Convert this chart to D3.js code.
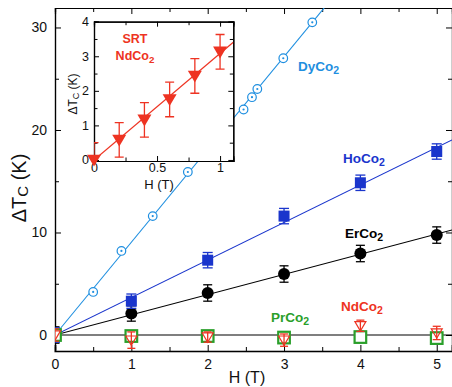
<!DOCTYPE html>
<html><head><meta charset="utf-8">
<script src="https://cdn.jsdelivr.net/npm/d3@7/dist/d3.min.js"></script>
<style>body{margin:0;background:#fff}svg{display:block;font-family:"Liberation Sans",Arial,Helvetica,sans-serif}</style>
</head><body>
<svg id="c" width="452" height="387"></svg>
<script>
// ---- data ----
const fieldH = [0, 1, 2, 3, 4, 5];
const dyH = [0, 0.5, 0.87, 1.28, 1.74, 2.47, 2.58, 2.65, 2.99, 3.37];
const dyT = [0, 4.2, 8.2, 11.6, 15.9, 22.0, 23.2, 24.0, 27.0, 30.5];
const hoT = [0, 3.3, 7.3, 11.6, 14.85, 17.9];
const hoErr = [0.7, 0.7, 0.75, 0.75, 0.75, 0.75];
const erT = [0, 2.1, 4.1, 5.95, 7.95, 9.75];
const erErr = [0.8, 0.75, 0.8, 0.8, 0.8, 0.8];
const prT = [0, -0.1, -0.1, -0.25, -0.2, -0.3];
const prErr = [0.4, 0.4, 0.4, 0.4, 0.4, 0.4];
const ndT = [0, -0.5, -0.2, -0.5, 0.9, 0.2];
const ndErr = [0.6, 0.8, 0.5, 0.6, 0.55, 0.65];
const fitSlopes = {dy: 9.05, ho: 3.66, er: 1.97};
const insetH = [0, 0.2, 0.4, 0.6, 0.8, 1.0];
const insetT = [0, 0.58, 1.16, 1.75, 2.43, 3.13];
const insetErr = [0.5, 0.5, 0.5, 0.5, 0.5, 0.5];
const insetSlope = 3.08;
const xTicks = [0, 1, 2, 3, 4, 5];
const yTicks = [0, 10, 20, 30];
const insetXTicks = [0, 0.5, 1];
const insetYTicks = [0, 1, 2, 3, 4];

const C = {dy: "#1f8fe0", ho: "#1a35cc", er: "#000", pr: "#2a9f2a", nd: "#ee3322"};

const svg = d3.select("#c");
const L = 55, R = 452, T = 8, B = 351;
const x = d3.scaleLinear().domain([0, 5.2]).range([L, R]);
const y = d3.scaleLinear().domain([-1.56, 31.9]).range([B, T]);

const defs = svg.append("defs");
defs.append("clipPath").attr("id", "clip")
  .append("rect").attr("x", L).attr("y", T).attr("width", R - L).attr("height", B - T);

// axes with inward ticks
function addAxes(g, xs, ys, xt, xMinor, yt, yMinor, fs, major, minor, xOff, yOff) {
  const [x0, x1] = xs.range(), [y0, y1] = ys.range();
  const bot = g.append("g").attr("transform", `translate(0,${y0})`)
    .call(d3.axisBottom(xs).tickValues(xt).tickSize(-major).tickPadding(xOff).tickFormat(d3.format("")));
  g.append("g").attr("transform", `translate(0,${y0})`)
    .call(d3.axisBottom(xs).tickValues(xMinor).tickSize(-minor).tickFormat(""));
  g.append("g").attr("transform", `translate(0,${y1})`)
    .call(d3.axisTop(xs).tickValues(xt).tickSize(-major).tickFormat(""));
  g.append("g").attr("transform", `translate(0,${y1})`)
    .call(d3.axisTop(xs).tickValues(xMinor).tickSize(-minor).tickFormat(""));
  g.append("g").attr("transform", `translate(${x0},0)`)
    .call(d3.axisLeft(ys).tickValues(yt).tickSize(-major).tickPadding(yOff).tickFormat(d3.format("")));
  g.append("g").attr("transform", `translate(${x0},0)`)
    .call(d3.axisLeft(ys).tickValues(yMinor).tickSize(-minor).tickFormat(""));
  g.append("g").attr("transform", `translate(${x1},0)`)
    .call(d3.axisRight(ys).tickValues(yt).tickSize(-major).tickFormat(""));
  g.append("g").attr("transform", `translate(${x1},0)`)
    .call(d3.axisRight(ys).tickValues(yMinor).tickSize(-minor).tickFormat(""));
  g.selectAll(".domain").attr("stroke", "#000").attr("stroke-width", 1.2);
  g.selectAll(".tick line").attr("stroke", "#000").attr("stroke-width", 1);
  g.selectAll(".tick text").attr("font-size", fs).attr("fill", "#111")
    .attr("font-family", "Liberation Sans, Arial, sans-serif");
  return bot;
}

const main = svg.append("g");
const bot = addAxes(main, x, y, xTicks, [0.5, 1.5, 2.5, 3.5, 4.5], yTicks, [5, 15, 25],
  14, 6, 4, 8, 8);
bot.select(".domain").attr("stroke", "#777").attr("stroke-width", 2.2);

// zero line
main.append("line").attr("x1", L).attr("x2", R).attr("y1", y(0)).attr("y2", y(0))
  .attr("stroke", "#000").attr("stroke-width", 1.2);

// fit lines
const plot = svg.append("g").attr("clip-path", "url(#clip)");
for (const k of ["er", "ho", "dy"]) {
  plot.append("line").attr("x1", x(0)).attr("y1", y(0))
    .attr("x2", x(5.2)).attr("y2", y(5.2 * fitSlopes[k]))
    .attr("stroke", C[k]).attr("stroke-width", 1.1);
}

function errBars(g, xs, ys, xv, yv, ev, col, cap) {
  xv.forEach((h, i) => {
    const e = ev[i], cx = xs(h);
    g.append("line").attr("x1", cx).attr("x2", cx).attr("y1", ys(yv[i] - e)).attr("y2", ys(yv[i] + e))
      .attr("stroke", col).attr("stroke-width", 1.3);
    for (const s of [-1, 1]) g.append("line").attr("x1", cx - cap).attr("x2", cx + cap)
      .attr("y1", ys(yv[i] + s * e)).attr("y2", ys(yv[i] + s * e)).attr("stroke", col).attr("stroke-width", 1.3);
  });
}
const tri = (s) => `M${-s},${-s*0.75}L${s},${-s*0.75}L0,${s*0.95}Z`;

// ErCo2
errBars(plot, x, y, fieldH, erT, erErr, C.er, 4.5);
plot.selectAll(".er").data(fieldH).join("circle").attr("cx", d => x(d)).attr("cy", (d, i) => y(erT[i]))
  .attr("r", 6).attr("fill", C.er);
// HoCo2
errBars(plot, x, y, fieldH, hoT, hoErr, C.ho, 5);
plot.selectAll(".ho").data(fieldH).join("rect").attr("x", d => x(d) - 5.5).attr("y", (d, i) => y(hoT[i]) - 5.5)
  .attr("width", 11).attr("height", 11).attr("fill", C.ho);
// DyCo2
dyH.forEach((h, i) => {
  plot.append("circle").attr("cx", x(h)).attr("cy", y(dyT[i])).attr("r", 4.3)
    .attr("fill", "#fff").attr("stroke", C.dy).attr("stroke-width", 1.2);
  plot.append("circle").attr("cx", x(h)).attr("cy", y(dyT[i])).attr("r", 1.1).attr("fill", C.dy);
});
// PrCo2
errBars(plot, x, y, fieldH, prT, prErr, C.pr, 4);
plot.selectAll(".pr").data(fieldH).join("rect").attr("x", d => x(d) - 5.8).attr("y", (d, i) => y(prT[i]) - 5.8)
  .attr("width", 11.6).attr("height", 11.6).attr("fill", "#fff").attr("stroke", C.pr).attr("stroke-width", 2.2);
// NdCo2
errBars(plot, x, y, fieldH, ndT, ndErr, C.nd, 4);
plot.selectAll(".nd").data(fieldH).join("path")
  .attr("transform", (d, i) => `translate(${x(d)},${y(ndT[i])})`)
  .attr("d", tri(5.5)).attr("fill", "none").attr("stroke", C.nd).attr("stroke-width", 1.2);

// labels
function chem(g, px, py, base, col, fs, anchor) {
  const t = g.append("text").attr("x", px).attr("y", py).attr("fill", col)
    .attr("font-size", fs).attr("font-weight", "bold").attr("text-anchor", anchor || "start");
  t.append("tspan").text(base);
  t.append("tspan").attr("dy", fs * 0.25).attr("font-size", fs * 0.78).text("2");
  return t;
}
chem(svg, 298, 71, "DyCo", C.dy, 13.5);
chem(svg, 343, 163, "HoCo", C.ho, 13.5);
chem(svg, 345, 238, "ErCo", "#000", 13.5);
chem(svg, 271, 322, "PrCo", C.pr, 13.5);
chem(svg, 341, 311, "NdCo", C.nd, 13.5);

// axis titles
svg.append("text").attr("x", 247).attr("y", 383).attr("text-anchor", "middle")
  .attr("font-size", 16).attr("fill", "#111").text("H (T)");
const yt = svg.append("text").attr("transform", "translate(26,188) rotate(-90)").attr("text-anchor", "middle")
  .attr("font-size", 20).attr("fill", "#111");
yt.append("tspan").text("ΔT");
yt.append("tspan").attr("font-size", 15).attr("dy", 2).text("C");
yt.append("tspan").attr("dy", -2).text(" (K)");

// ---- inset ----
const ix = d3.scaleLinear().domain([0, 1.105]).range([94, 233.3]);
const iy = d3.scaleLinear().domain([-0.03, 4]).range([161, 21.7]);
const inset = svg.append("g");
inset.append("rect").attr("x", 94).attr("y", 21.7).attr("width", 233.3 - 94).attr("height", 161 - 21.7)
  .attr("fill", "#fff");
addAxes(inset, ix, iy, insetXTicks, [0.25, 0.75], insetYTicks, [0.5, 1.5, 2.5, 3.5], 12.5, 5, 3.5, 2, 5);
defs.append("clipPath").attr("id", "iclip")
  .append("rect").attr("x", 94).attr("y", 21.7).attr("width", 233.3 - 94).attr("height", 161 - 21.7);
const ip = inset.append("g").attr("clip-path", "url(#iclip)");
ip.append("line").attr("x1", ix(0)).attr("y1", iy(0)).attr("x2", ix(1.105)).attr("y2", iy(1.105 * insetSlope))
  .attr("stroke", C.nd).attr("stroke-width", 1.2);
errBars(ip, ix, iy, insetH, insetT, insetErr, C.nd, 4.5);
inset.selectAll(".it").data(insetH).join("path")
  .attr("transform", (d, i) => `translate(${ix(d)},${iy(insetT[i])})`)
  .attr("d", tri(7)).attr("fill", C.nd);
inset.append("text").attr("x", 135).attr("y", 43).attr("text-anchor", "middle").attr("fill", C.nd)
  .attr("font-size", 12.5).attr("font-weight", "bold").text("SRT");
chem(inset, 135, 60, "NdCo", C.nd, 12.5, "middle");
inset.append("text").attr("x", 159).attr("y", 189).attr("text-anchor", "middle")
  .attr("font-size", 13).attr("fill", "#111").text("H (T)");
const iyt = inset.append("text").attr("transform", "translate(77,94) rotate(-90)").attr("text-anchor", "middle")
  .attr("font-size", 12).attr("fill", "#111");
iyt.append("tspan").text("ΔT");
iyt.append("tspan").attr("font-size", 9).attr("dy", 1.5).text("C");
iyt.append("tspan").attr("dy", -1.5).text(" (K)");
</script>
</body></html>
